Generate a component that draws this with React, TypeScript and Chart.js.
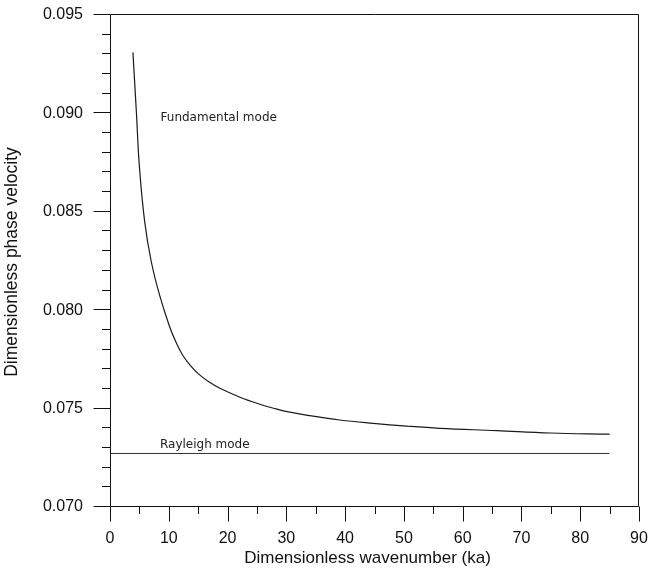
import React, { useEffect, useRef } from "react";
import { Chart, registerables } from "chart.js";

Chart.register(...registerables);

const waveNumber = [3.9, 4.5, 5.0, 5.9, 7.0, 8.4, 10.1, 11.2, 12.4, 13.8, 15.3, 17.0, 18.7, 22.1, 25.5, 27.7, 29.9, 33.4, 39.1, 44.8, 50.5, 56.1, 65.8, 74.9, 85.0];
const fundamentalMode = [0.0931, 0.0900, 0.0873, 0.0845, 0.0825, 0.0808, 0.0792, 0.0784, 0.0777, 0.07715, 0.0767, 0.07633, 0.07603, 0.07558, 0.07522, 0.07503, 0.07486, 0.07467, 0.07442, 0.07425, 0.07411, 0.0740, 0.07388, 0.07376, 0.07370];
const rayleighX = [0, 85];
const rayleighMode = [0.07272, 0.07272];
const xTickValues = [0, 10, 20, 30, 40, 50, 60, 70, 80, 90];
const yTickLabels = ["0.070", "0.075", "0.080", "0.085", "0.090", "0.095"];
const curveLabels = ["Fundamental mode", "Rayleigh mode"];
const xTitle = "Dimensionless wavenumber (ka)";
const yTitle = "Dimensionless phase velocity";

const AXIS_FONT = '"Liberation Sans", Arial, sans-serif';

const decorPlugin = {
  id: "decor",
  afterDraw(chart: any) {
    const { ctx, chartArea, scales } = chart;
    const xs = scales.x;
    const ys = scales.y;
    const L = Math.round(chartArea.left) + 0.5;
    const R = Math.round(chartArea.right) - 0.5;
    const T = Math.round(chartArea.top) - 0.5;
    const B = Math.round(chartArea.bottom) - 0.5;
    ctx.save();
    ctx.strokeStyle = "#111";
    ctx.lineWidth = 1;
    ctx.beginPath();
    ctx.rect(L, T, R - L, B - T);
    ctx.stroke();
    ctx.beginPath();
    for (let k = 70; k <= 95; k++) {
      const py = Math.round(ys.getPixelForValue(k / 1000)) - 0.5;
      const len = k % 5 === 0 ? 17 : 8.5;
      ctx.moveTo(L - len, py);
      ctx.lineTo(L, py);
    }
    for (let k = 0; k <= 90; k += 5) {
      const px = Math.round(xs.getPixelForValue(k)) + 0.5;
      const len = k % 10 === 0 ? 15 : 7.5;
      ctx.moveTo(px, B);
      ctx.lineTo(px, B + len);
    }
    ctx.stroke();

    ctx.fillStyle = "#222";
    ctx.font = '12px "DejaVu Sans", Verdana, sans-serif';
    ctx.textAlign = "left";
    ctx.textBaseline = "alphabetic";
    ctx.fillText(curveLabels[0], xs.getPixelForValue(8.6), ys.getPixelForValue(0.08960));
    ctx.fillText(curveLabels[1], xs.getPixelForValue(8.5), ys.getPixelForValue(0.07300));

    ctx.fillStyle = "#111";
    ctx.font = "17px " + AXIS_FONT;
    ctx.textAlign = "center";
    ctx.fillText(xTitle, 367.5, 563);
    ctx.translate(17, (chartArea.top + chartArea.bottom) / 2 + 1);
    ctx.rotate(-Math.PI / 2);
    ctx.font = "17.5px " + AXIS_FONT;
    ctx.fillText(yTitle, 0, 0);
    ctx.restore();
  },
};

const zeroPad = (s: any) => {
  s.paddingTop = 0;
  s.paddingBottom = 0;
  s.paddingLeft = 0;
  s.paddingRight = 0;
};

export default function App() {
  const ref = useRef<HTMLCanvasElement | null>(null);
  useEffect(() => {
    if (!ref.current) return;
    const chart = new Chart(ref.current, {
      type: "line",
      data: {
        datasets: [
          {
            label: curveLabels[0],
            data: waveNumber.map((x, i) => ({ x, y: fundamentalMode[i] })),
            borderColor: "#1a1a1a",
            borderWidth: 1.2,
            pointRadius: 0,
            tension: 0.4,
            fill: false,
          },
          {
            label: curveLabels[1],
            data: rayleighX.map((x, i) => ({ x, y: rayleighMode[i] })),
            borderColor: "#333",
            borderWidth: 1,
            pointRadius: 0,
            fill: false,
          },
        ],
      },
      options: {
        responsive: false,
        animation: false,
        events: [],
        layout: { padding: { left: 0, right: 23, top: 15, bottom: 0 } },
        plugins: { legend: { display: false }, tooltip: { enabled: false } },
        scales: {
          x: {
            type: "linear",
            min: 0,
            max: 90,
            grid: { display: false, drawTicks: false },
            border: { display: false },
            ticks: {
              stepSize: 10,
              padding: 22,
              color: "#111",
              font: { family: AXIS_FONT, size: 16 },
              maxRotation: 0,
              autoSkip: false,
              callback: (v: any) => (xTickValues.includes(Number(v)) ? String(v) : ""),
            },
            afterFit: (s: any) => {
              s.height = 64;
              zeroPad(s);
            },
          },
          y: {
            type: "linear",
            min: 0.07,
            max: 0.095,
            grid: { display: false, drawTicks: false },
            border: { display: false },
            ticks: {
              stepSize: 0.005,
              padding: 27,
              color: "#111",
              font: { family: AXIS_FONT, size: 16 },
              autoSkip: false,
              callback: (v: any) => yTickLabels[Math.round((Number(v) - 0.07) / 0.005)] ?? "",
            },
            afterFit: (s: any) => {
              s.width = 110;
              zeroPad(s);
            },
          },
        },
      },
      plugins: [decorPlugin],
    });
    return () => chart.destroy();
  }, []);
  return (
    <div style={{ position: "absolute", left: 0, top: 0, width: 662, height: 571, background: "#fff" }}>
      <canvas ref={ref} width={662} height={571} style={{ display: "block" }} />
    </div>
  );
}
